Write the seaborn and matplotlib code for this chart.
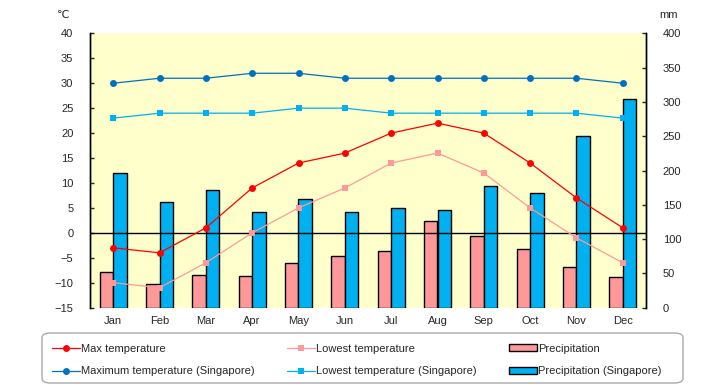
import matplotlib
matplotlib.use("Agg")
import matplotlib.pyplot as plt
import numpy as np
import pandas as pd
import seaborn as sns
from matplotlib.lines import Line2D
from matplotlib.patches import Patch, FancyBboxPatch


# Chart data
months = ["Jan", "Feb", "Mar", "Apr", "May", "Jun",
          "Jul", "Aug", "Sep", "Oct", "Nov", "Dec"]

max_temp = [-3, -4, 1, 9, 14, 16, 20, 22, 20, 14, 7, 1]
low_temp = [-10, -11, -6, 0, 5, 9, 14, 16, 12, 5, -1, -6]
precip = [52, 35, 47, 46, 65, 76, 82, 127, 105, 86, 59, 44]

max_temp_sg = [30, 31, 31, 32, 32, 31, 31, 31, 31, 31, 31, 30]
low_temp_sg = [23, 24, 24, 24, 25, 25, 24, 24, 24, 24, 24, 23]
precip_sg = [197, 154, 171, 140, 158, 140, 145, 143, 177, 167, 251, 304]

temp_ticks = list(range(-15, 41, 5))
precip_ticks = list(range(0, 401, 50))


# Colours
red = "#FF0000"
pink = "#FF9999"
dark_blue = "#0070C0"
light_blue = "#00B0F0"
panel = "#FFFFCC"


sns.set_style("white")
plt.rcParams["font.family"] = ["Liberation Sans", "DejaVu Sans"]
plt.rcParams["font.size"] = 8


fig = plt.figure(figsize=(7.2, 3.85), dpi=100)
ax_p = fig.add_axes([90 / 720, 1 - 307.67 / 385, 556 / 720, 274.3 / 385])
ax_t = ax_p.twinx()

ax_p.set_facecolor(panel)


# Precipitation bars on the back axes
bars = pd.DataFrame({
    "month": months * 2,
    "mm": precip + precip_sg,
    "series": ["Precipitation"] * 12 + ["Precipitation (Singapore)"] * 12
})

sns.barplot(
    data=bars,
    x="month",
    y="mm",
    hue="series",
    palette=[pink, light_blue],
    saturation=1,
    width=0.58,
    edgecolor="black",
    linewidth=1,
    legend=False,
    ax=ax_p
)

# Zero line
ax_t.axhline(0, color="black", linewidth=1, zorder=1)

# Temperature lines
line_specs = [
    (max_temp, red, "o"),
    (low_temp, pink, "s"),
    (max_temp_sg, dark_blue, "o"),
    (low_temp_sg, light_blue, "s"),
]

for values, colour, mark in line_specs:
    sns.pointplot(
        x=months,
        y=values,
        color=colour,
        markers=mark,
        markersize=5,
        linewidth=0.9,
        markeredgewidth=0,
        errorbar=None,
        ax=ax_t
    )


# Axes setup
ax_t.set_ylim(-15, 40)
ax_t.set_yticks(temp_ticks)
ax_p.set_ylim(0, 400)
ax_p.set_yticks(precip_ticks)
ax_p.set_xlim(-0.5, 11.5)

ax_t.yaxis.tick_left()
ax_t.yaxis.set_label_position("left")
ax_p.yaxis.tick_right()

for ax in (ax_p, ax_t):
    ax.set_xlabel("")
    ax.set_ylabel("")
    ax.spines["top"].set_visible(False)
    ax.spines["bottom"].set_visible(False)
    ax.spines["left"].set_color("black")
    ax.spines["right"].set_color("black")
    ax.spines["left"].set_linewidth(1)
    ax.spines["right"].set_linewidth(1)

ax_t.tick_params(axis="y", direction="in", length=3, width=1,
                 left=True, right=False, labelleft=True, labelright=False,
                 pad=12, labelsize=8)
ax_p.tick_params(axis="y", direction="in", length=3, width=1,
                 left=False, right=True, labelleft=False, labelright=True,
                 pad=12, labelsize=8)
ax_p.tick_params(axis="x", length=0, pad=6, labelsize=8)
ax_t.tick_params(axis="x", length=0, labelbottom=False)

ax_p.set_xticks(range(len(months)))
ax_p.set_xticklabels(months)

fig.text(63 / 720, 1 - 15 / 385, "℃", ha="center", va="center", fontsize=8)
fig.text(669 / 720, 1 - 15 / 385, "mm", ha="center", va="center", fontsize=8)


# Legend box drawn separately so the columns can sit like the reference
box = FancyBboxPatch(
    (42 / 720, 2 / 385), 641 / 720, 50 / 385,
    boxstyle="round,pad=0,rounding_size=0.012",
    transform=fig.transFigure,
    facecolor="white",
    edgecolor="#AAAAAA",
    linewidth=1
)
fig.patches.append(box)

# Legend (ordered so that ncol=3 fills row by row like the reference)
handles = [
    Line2D([], [], color=red, marker="o", markersize=5, markeredgewidth=0,
           linewidth=0.9, label="Max temperature"),
    Line2D([], [], color=dark_blue, marker="o", markersize=5, markeredgewidth=0,
           linewidth=0.9, label="Maximum temperature (Singapore)"),
    Line2D([], [], color=pink, marker="s", markersize=5, markeredgewidth=0,
           linewidth=0.9, label="Lowest temperature"),
    Line2D([], [], color=light_blue, marker="s", markersize=5, markeredgewidth=0,
           linewidth=0.9, label="Lowest temperature (Singapore)"),
    Patch(facecolor=pink, edgecolor="black", linewidth=1,
          label="Precipitation"),
    Patch(facecolor=light_blue, edgecolor="black", linewidth=1,
          label="Precipitation (Singapore)"),
]

leg = fig.legend(
    handles=handles,
    ncol=3,
    loc="center",
    bbox_to_anchor=(52 / 720, 2 / 385, 610 / 720, 46 / 385),
    mode="expand",
    frameon=False,
    fontsize=8,
    handlelength=2.5,
    handleheight=0.6,
    handletextpad=0.15,
    borderpad=0,
    borderaxespad=0,
    labelspacing=1.15,
    columnspacing=1.0
)

fig.savefig("out.png", dpi=100)
